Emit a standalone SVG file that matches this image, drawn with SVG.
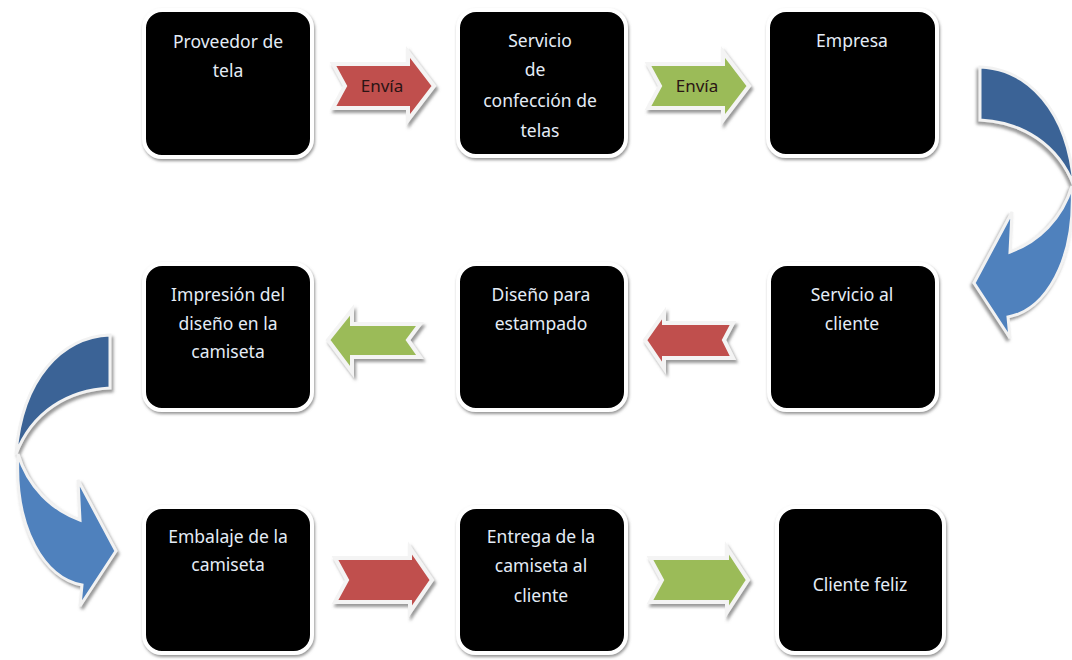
<svg xmlns="http://www.w3.org/2000/svg" width="1072" height="660" viewBox="0 0 1072 660">
<defs>
<filter id="sh" x="-20%" y="-20%" width="140%" height="140%">
<feDropShadow dx="1" dy="2" stdDeviation="1.6" flood-color="#7a7a7a" flood-opacity="0.8"/>
</filter>
<filter id="ash" x="-20%" y="-20%" width="140%" height="150%">
<feDropShadow dx="2" dy="3" stdDeviation="1.4" flood-color="#6e6e6e" flood-opacity="0.7"/>
</filter>
</defs>
<style>
.box{fill:#000;stroke:#ffffff;stroke-width:4;filter:url(#sh)}
.t{font-family:"Noto Sans","Liberation Sans",sans-serif;font-size:17.5px;fill:#e4ecf6;text-anchor:middle}
.lbl{font-family:"Noto Sans","Liberation Sans",sans-serif;font-size:17px;fill:#2a1414;text-anchor:middle}
.red{fill:#c0504d;stroke:#f4f4f4;stroke-width:4;stroke-linejoin:miter;filter:url(#ash)}
.green{fill:#9bbb59;stroke:#f4f4f4;stroke-width:4;stroke-linejoin:miter;filter:url(#ash)}
.dk{fill:#3b6496;stroke:#f2f2f2;stroke-width:3;filter:url(#ash)}
.lt{fill:#4f81bd;stroke:#f2f2f2;stroke-width:3;filter:url(#ash)}
</style>
<rect width="1072" height="660" fill="#ffffff"/>

<g id="connectors">
  <g id="a1">
    <path class="red" d="M333,64 L408,64 L408,52 L434,86 L408,120 L408,108 L333,108 L345,86 Z"/>
    <text class="lbl" x="382" y="92">Envía</text>
  </g>
  <g id="a2">
    <path class="green" d="M648,64 L723,64 L723,52 L749,86 L723,120 L723,108 L648,108 L660,86 Z"/>
    <text class="lbl" x="697" y="92">Envía</text>
  </g>
  <g id="a3">
    <g transform="translate(1090,-268) scale(-1,1)">
      <path class="dk" d="M110,335 C62,337 22,378 16,454 C32,412 68,390 110,388 Z"/>
      <path class="lt" d="M18,454 C28,487 52,510 80,520 L78,480 L116,551 L80,606 L82,585 C45,578 14,530 18,454 Z"/>
    </g>
  </g>
  <g id="a4">
    <path class="red" d="M733,323 L664,323 L664,313 L645,340 L664,368 L664,358 L733,358 L724,340 Z"/>
  </g>
  <g id="a5">
    <path class="green" d="M420,324 L352,324 L352,310 L328,340 L352,372 L352,357 L420,357 L408,340 Z"/>
  </g>
  <g id="a6">
    <path class="dk" d="M110,335 C62,337 22,378 16,454 C32,412 68,390 110,388 Z"/>
    <path class="lt" d="M18,454 C28,487 52,510 80,520 L78,480 L116,551 L80,606 L82,585 C45,578 14,530 18,454 Z"/>
  </g>
  <g id="a7">
    <path class="red" d="M335,558 L410,558 L410,548 L432,580 L410,612 L410,602 L335,602 L347,580 Z"/>
  </g>
  <g id="a8">
    <path class="green" d="M650,558 L727,558 L727,548 L748,580 L727,612 L727,602 L650,602 L662,580 Z"/>
  </g>
</g>

<g id="n1">
  <rect class="box" x="144" y="10" width="168" height="147" rx="18"/>
  <text class="t" x="228" y="48">Proveedor de</text>
  <text class="t" x="228" y="77">tela</text>
</g>
<g id="n2">
  <rect class="box" x="458" y="10" width="168" height="146" rx="18"/>
  <text class="t" x="540" y="47">Servicio</text>
  <text class="t" x="535" y="76">de</text>
  <text class="t" x="540" y="107">confección de</text>
  <text class="t" x="540" y="137">telas</text>
</g>
<g id="n3">
  <rect class="box" x="768" y="10" width="169" height="146" rx="18"/>
  <text class="t" x="852" y="47">Empresa</text>
</g>
<g id="n4">
  <rect class="box" x="769" y="264" width="168" height="146" rx="18"/>
  <text class="t" x="852" y="301">Servicio al</text>
  <text class="t" x="852" y="330">cliente</text>
</g>
<g id="n5">
  <rect class="box" x="458" y="264" width="168" height="146" rx="18"/>
  <text class="t" x="541" y="301">Diseño para</text>
  <text class="t" x="541" y="330">estampado</text>
</g>
<g id="n6">
  <rect class="box" x="144" y="264" width="168" height="146" rx="18"/>
  <text class="t" x="228" y="301">Impresión del</text>
  <text class="t" x="228" y="330">diseño en la</text>
  <text class="t" x="228" y="358">camiseta</text>
</g>
<g id="n7">
  <rect class="box" x="144" y="507" width="168" height="146" rx="18"/>
  <text class="t" x="228" y="543">Embalaje de la</text>
  <text class="t" x="228" y="571">camiseta</text>
</g>
<g id="n8">
  <rect class="box" x="458" y="507" width="168" height="146" rx="18"/>
  <text class="t" x="541" y="543">Entrega de la</text>
  <text class="t" x="541" y="572">camiseta al</text>
  <text class="t" x="541" y="602">cliente</text>
</g>
<g id="n9">
  <rect class="box" x="777" y="507" width="167" height="146" rx="18"/>
  <text class="t" x="860" y="591">Cliente feliz</text>
</g>
</svg>
